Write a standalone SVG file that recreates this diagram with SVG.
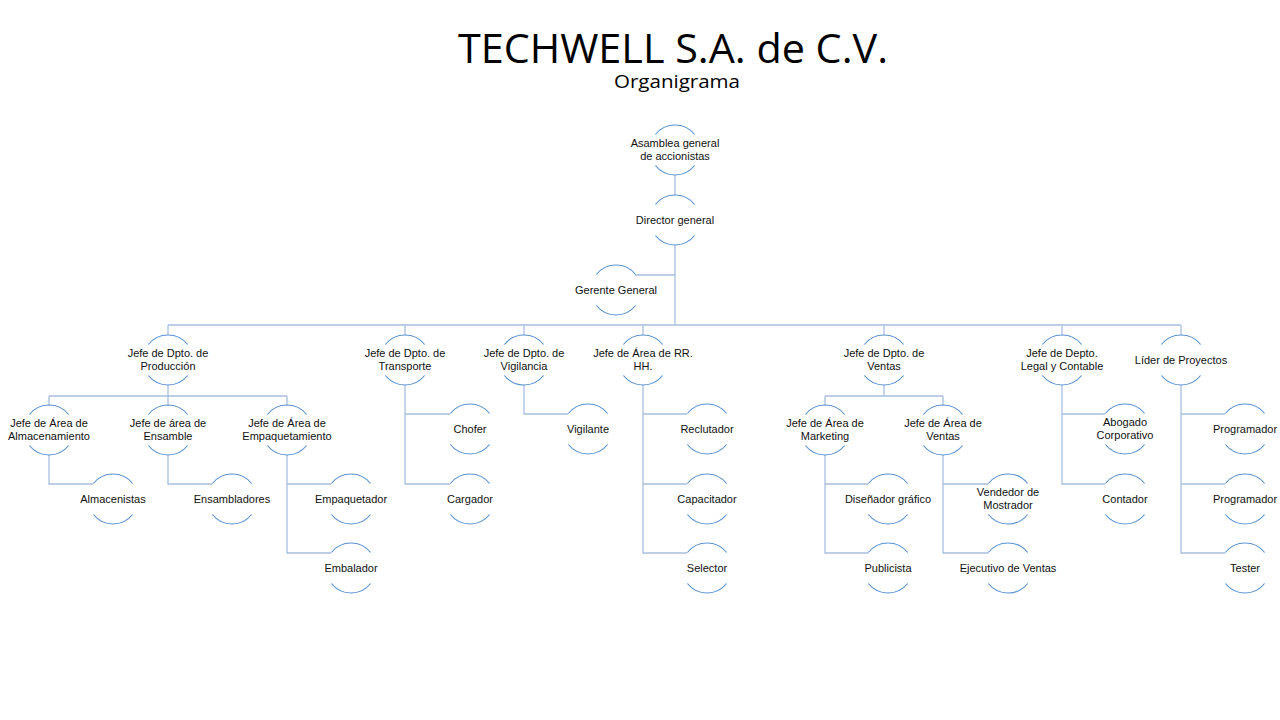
<svg xmlns="http://www.w3.org/2000/svg" xmlns:xlink="http://www.w3.org/1999/xlink" width="1280" height="720" viewBox="0 0 1280 720">
<style>
.arc{fill:none;stroke:#5B93D3;stroke-width:1.2}
.con{fill:none;stroke:#A9BFE0;stroke-width:1.3}
.t{font-family:"Liberation Sans",Arial,sans-serif;font-size:11px;fill:#111;text-anchor:middle}
.title{font-family:"Open Sans","Liberation Sans",Arial,sans-serif;fill:#000;text-anchor:middle}
</style>
<defs>
<path id="arc" class="arc" d="M-19.6,-15.5 A25 25 0 0 1 19.6,-15.5 M-19.6,15.5 A25 25 0 0 0 19.6,15.5"/>
</defs>
<rect width="1280" height="720" fill="#fff"/>
<text class="title" x="673" y="63" font-size="40" textLength="430" lengthAdjust="spacingAndGlyphs">TECHWELL S.A. de C.V.</text>
<text class="title" x="677" y="88" font-size="18" textLength="126" lengthAdjust="spacingAndGlyphs">Organigrama</text>
<g id="connectors" class="con">
<path d="M675,175V195 M675,245V325 M635,275H675 M168,325H1181"/>
<path d="M168,325V335 M405,325V335 M524,325V335 M643,325V335 M884,325V335 M1062,325V335 M1181,325V335"/>
<path d="M168,385V396 M49,396H287 M49,396V406 M168,396V406 M287,396V406"/>
<path d="M49,455V484H93 M168,455V484H212 M287,455V553H331 M287,484H331"/>
<path d="M405,385V484H450 M405,414H450"/>
<path d="M524,385V414H568"/>
<path d="M643,385V553H687 M643,414H687 M643,484H687"/>
<path d="M884,385V396 M825,396H943 M825,396V406 M943,396V406"/>
<path d="M825,455V553H868 M825,484H868"/>
<path d="M943,455V553H988 M943,484H988"/>
<path d="M1062,385V484H1105 M1062,414H1105"/>
<path d="M1181,385V553H1225 M1181,414H1225 M1181,484H1225"/>
</g>
<g id="n-asamblea"><use xlink:href="#arc" x="675" y="150"/><text class="t" x="675" y="147">Asamblea general</text><text class="t" x="675" y="160">de accionistas</text></g>
<g id="n-director"><use xlink:href="#arc" x="675" y="220"/><text class="t" x="675" y="223.5">Director general</text></g>
<g id="n-gerente"><use xlink:href="#arc" x="616" y="290"/><text class="t" x="616" y="293.5">Gerente General</text></g>
<g id="n-produccion"><use xlink:href="#arc" x="168" y="360"/><text class="t" x="168" y="357">Jefe de Dpto. de</text><text class="t" x="168" y="370">Producción</text></g>
<g id="n-transporte"><use xlink:href="#arc" x="405" y="360"/><text class="t" x="405" y="357">Jefe de Dpto. de</text><text class="t" x="405" y="370">Transporte</text></g>
<g id="n-vigilancia"><use xlink:href="#arc" x="524" y="360"/><text class="t" x="524" y="357">Jefe de Dpto. de</text><text class="t" x="524" y="370">Vigilancia</text></g>
<g id="n-rrhh"><use xlink:href="#arc" x="643" y="360"/><text class="t" x="643" y="357">Jefe de Área de RR.</text><text class="t" x="643" y="370">HH.</text></g>
<g id="n-ventas"><use xlink:href="#arc" x="884" y="360"/><text class="t" x="884" y="357">Jefe de Dpto. de</text><text class="t" x="884" y="370">Ventas</text></g>
<g id="n-legal"><use xlink:href="#arc" x="1062" y="360"/><text class="t" x="1062" y="357">Jefe de Depto.</text><text class="t" x="1062" y="370">Legal y Contable</text></g>
<g id="n-lider"><use xlink:href="#arc" x="1181" y="360"/><text class="t" x="1181" y="363.5">Líder de Proyectos</text></g>
<g id="n-almacenamiento"><use xlink:href="#arc" x="49" y="430"/><text class="t" x="49" y="427">Jefe de Área de</text><text class="t" x="49" y="440">Almacenamiento</text></g>
<g id="n-ensamble"><use xlink:href="#arc" x="168" y="430"/><text class="t" x="168" y="427">Jefe de área de</text><text class="t" x="168" y="440">Ensamble</text></g>
<g id="n-empaquetamiento"><use xlink:href="#arc" x="287" y="430"/><text class="t" x="287" y="427">Jefe de Área de</text><text class="t" x="287" y="440">Empaquetamiento</text></g>
<g id="n-almacenistas"><use xlink:href="#arc" x="113" y="499"/><text class="t" x="113" y="502.5">Almacenistas</text></g>
<g id="n-ensambladores"><use xlink:href="#arc" x="232" y="499"/><text class="t" x="232" y="502.5">Ensambladores</text></g>
<g id="n-empaquetador"><use xlink:href="#arc" x="351" y="499"/><text class="t" x="351" y="502.5">Empaquetador</text></g>
<g id="n-embalador"><use xlink:href="#arc" x="351" y="568"/><text class="t" x="351" y="571.5">Embalador</text></g>
<g id="n-chofer"><use xlink:href="#arc" x="470" y="429"/><text class="t" x="470" y="432.5">Chofer</text></g>
<g id="n-cargador"><use xlink:href="#arc" x="470" y="499"/><text class="t" x="470" y="502.5">Cargador</text></g>
<g id="n-vigilante"><use xlink:href="#arc" x="588" y="429"/><text class="t" x="588" y="432.5">Vigilante</text></g>
<g id="n-reclutador"><use xlink:href="#arc" x="707" y="429"/><text class="t" x="707" y="432.5">Reclutador</text></g>
<g id="n-capacitador"><use xlink:href="#arc" x="707" y="499"/><text class="t" x="707" y="502.5">Capacitador</text></g>
<g id="n-selector"><use xlink:href="#arc" x="707" y="568"/><text class="t" x="707" y="571.5">Selector</text></g>
<g id="n-marketing"><use xlink:href="#arc" x="825" y="430"/><text class="t" x="825" y="427">Jefe de Área de</text><text class="t" x="825" y="440">Marketing</text></g>
<g id="n-areaventas"><use xlink:href="#arc" x="943" y="430"/><text class="t" x="943" y="427">Jefe de Área de</text><text class="t" x="943" y="440">Ventas</text></g>
<g id="n-disenador"><use xlink:href="#arc" x="888" y="499"/><text class="t" x="888" y="502.5">Diseñador gráfico</text></g>
<g id="n-publicista"><use xlink:href="#arc" x="888" y="568"/><text class="t" x="888" y="571.5">Publicista</text></g>
<g id="n-vendedor"><use xlink:href="#arc" x="1008" y="499"/><text class="t" x="1008" y="496">Vendedor de</text><text class="t" x="1008" y="509">Mostrador</text></g>
<g id="n-ejecutivo"><use xlink:href="#arc" x="1008" y="568"/><text class="t" x="1008" y="571.5">Ejecutivo de Ventas</text></g>
<g id="n-abogado"><use xlink:href="#arc" x="1125" y="429"/><text class="t" x="1125" y="426">Abogado</text><text class="t" x="1125" y="439">Corporativo</text></g>
<g id="n-contador"><use xlink:href="#arc" x="1125" y="499"/><text class="t" x="1125" y="502.5">Contador</text></g>
<g id="n-programador1"><use xlink:href="#arc" x="1245" y="429"/><text class="t" x="1245" y="432.5">Programador</text></g>
<g id="n-programador2"><use xlink:href="#arc" x="1245" y="499"/><text class="t" x="1245" y="502.5">Programador</text></g>
<g id="n-tester"><use xlink:href="#arc" x="1245" y="568"/><text class="t" x="1245" y="571.5">Tester</text></g>
</svg>
